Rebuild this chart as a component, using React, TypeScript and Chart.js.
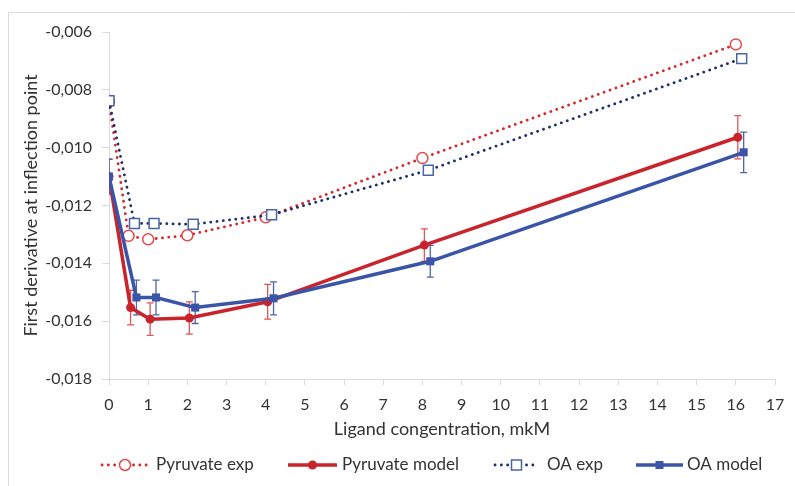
import React, { useEffect, useRef } from "react";
import { Chart, registerables } from "chart.js";

Chart.register(...registerables);

// ---- data ----
const pyrExpX = [0, 0.5, 1, 2, 4, 8, 16];
const pyrExpY = [-0.0084, -0.01305, -0.01317, -0.01303, -0.01241, -0.01036, -0.00643];

const pyrModelX = [0, 0.55, 1.05, 2.05, 4.05, 8.05, 16.05];
const pyrModelY = [-0.011, -0.01553, -0.01593, -0.01589, -0.01533, -0.01337, -0.00964];
const pyrModelErr = [0.0006, 0.0006, 0.00056, 0.00056, 0.0006, 0.00056, 0.00075];

const oaExpX = [0, 0.65, 1.15, 2.15, 4.15, 8.15, 16.15];
const oaExpY = [-0.00838, -0.01262, -0.01262, -0.01265, -0.01232, -0.01078, -0.00692];

const oaModelX = [0, 0.7, 1.2, 2.2, 4.2, 8.2, 16.2];
const oaModelY = [-0.011, -0.01518, -0.01518, -0.01553, -0.01521, -0.01393, -0.01016];
const oaModelErr = [0.0006, 0.0006, 0.0006, 0.00055, 0.00057, 0.00055, 0.0007];

const seriesNames = ["Pyruvate exp", "Pyruvate model", "OA exp", "OA model"];
const xTitle = "Ligand congentration, mkM";
const yTitle = "First derivative at inflection point";

// ---- styles ----
const FONT = "Lato, 'Open Sans', sans-serif";
const TEXT = "#333333";
const AXIS = "#d9d9d9";
const RED_DOT = "#d42a2f";
const RED_OPEN = "#e8484a";
const RED = "#c9232c";
const RED_ERR = "#e0565a";
const NAVY_DOT = "#1f2f6e";
const BLUE_OPEN = "#4a64a8";
const BLUE = "#3a54a8";
const BLUE_ERR = "#4d66aa";

const pts = (xs: number[], ys: number[]) => xs.map((x, i) => ({ x, y: ys[i] }));

const errorBarPlugin = {
  id: "errorBars",
  beforeDatasetsDraw(chart: any) {
    const { ctx, chartArea } = chart;
    const ys = chart.scales.y;
    const xs = chart.scales.x;
    ctx.save();
    ctx.beginPath();
    ctx.rect(chartArea.left, chartArea.top, chartArea.right - chartArea.left, chartArea.bottom - chartArea.top);
    ctx.clip();
    chart.data.datasets.forEach((ds: any, di: number) => {
      if (!ds.errors) return;
      const meta = chart.getDatasetMeta(di);
      if (meta.hidden) return;
      ctx.strokeStyle = ds.errorColor;
      ctx.lineWidth = 1.3;
      ds.data.forEach((p: any, i: number) => {
        const e = ds.errors[i];
        const px = xs.getPixelForValue(p.x);
        const top = ys.getPixelForValue(p.y + e);
        const bot = ys.getPixelForValue(p.y - e);
        const cap = 3.5;
        ctx.beginPath();
        ctx.moveTo(px, top);
        ctx.lineTo(px, bot);
        ctx.moveTo(px - cap, top);
        ctx.lineTo(px + cap, top);
        ctx.moveTo(px - cap, bot);
        ctx.lineTo(px + cap, bot);
        ctx.stroke();
      });
    });
    ctx.restore();
  },
};

const frameLegendPlugin = {
  id: "frameLegend",
  beforeDraw(chart: any) {
    const { ctx } = chart;
    ctx.save();
    ctx.fillStyle = "#ffffff";
    ctx.fillRect(0, 0, chart.width, chart.height);
    ctx.strokeStyle = AXIS;
    ctx.lineWidth = 1;
    ctx.beginPath();
    ctx.moveTo(8.5, chart.height);
    ctx.lineTo(8.5, 12.5);
    ctx.lineTo(chart.width, 12.5);
    ctx.stroke();
    ctx.restore();
  },
  afterDraw(chart: any) {
    const { ctx } = chart;
    const y = 465;
    const items = [
      { x0: 102, x1: 148, tx: 156, kind: "pe" },
      { x0: 288, x1: 337, tx: 342, kind: "pm" },
      { x0: 495, x1: 538, tx: 547, kind: "oe" },
      { x0: 636, x1: 683, tx: 687, kind: "om" },
    ];
    ctx.save();
    items.forEach((it, i) => {
      const cx = (it.x0 + it.x1) / 2;
      ctx.beginPath();
      if (it.kind === "pe" || it.kind === "oe") {
        ctx.strokeStyle = it.kind === "pe" ? RED_DOT : NAVY_DOT;
        ctx.lineWidth = 2.8;
        ctx.lineCap = "round";
        ctx.setLineDash([0.1, 6.2]);
      } else {
        ctx.strokeStyle = it.kind === "pm" ? RED : BLUE;
        ctx.lineWidth = 3.5;
        ctx.lineCap = "butt";
        ctx.setLineDash([]);
      }
      ctx.moveTo(it.x0, y);
      ctx.lineTo(it.x1, y);
      ctx.stroke();
      ctx.setLineDash([]);
      if (it.kind === "pe") {
        ctx.beginPath();
        ctx.arc(cx, y, 5.5, 0, Math.PI * 2);
        ctx.fillStyle = "#fff";
        ctx.fill();
        ctx.strokeStyle = RED_OPEN;
        ctx.lineWidth = 1.5;
        ctx.stroke();
      } else if (it.kind === "pm") {
        ctx.beginPath();
        ctx.arc(cx, y, 4.5, 0, Math.PI * 2);
        ctx.fillStyle = RED;
        ctx.fill();
      } else if (it.kind === "oe") {
        ctx.fillStyle = "#fff";
        ctx.fillRect(cx - 5, y - 5, 10, 10);
        ctx.strokeStyle = BLUE_OPEN;
        ctx.lineWidth = 1.5;
        ctx.strokeRect(cx - 5, y - 5, 10, 10);
      } else {
        ctx.fillStyle = BLUE;
        ctx.fillRect(cx - 4, y - 4, 8, 8);
      }
      ctx.fillStyle = TEXT;
      ctx.font = `17px ${FONT}`;
      ctx.textAlign = "left";
      ctx.textBaseline = "middle";
      ctx.fillText(seriesNames[i], it.tx, y);
    });
    ctx.restore();
  },
};

export default function App() {
  const ref = useRef<HTMLCanvasElement>(null);

  useEffect(() => {
    document.body.style.margin = "0";
    const chart = new Chart(ref.current!, {
      type: "scatter",
      data: {
        datasets: [
          {
            label: seriesNames[0],
            data: pts(pyrExpX, pyrExpY),
            showLine: true,
            borderColor: RED_DOT,
            borderWidth: 2.8,
            borderDash: [0.1, 6.2],
            borderCapStyle: "round",
            pointStyle: "circle",
            pointRadius: 5.5,
            pointBorderWidth: 1.5,
            pointBorderColor: RED_OPEN,
            pointBackgroundColor: "#ffffff",
            order: 4,
          },
          {
            label: seriesNames[1],
            data: pts(pyrModelX, pyrModelY),
            errors: pyrModelErr,
            errorColor: RED_ERR,
            showLine: true,
            borderColor: RED,
            borderWidth: 3.5,
            pointStyle: "circle",
            pointRadius: 4.5,
            pointBorderWidth: 0,
            pointBackgroundColor: RED,
            order: 3,
          } as any,
          {
            label: seriesNames[2],
            data: pts(oaExpX, oaExpY),
            showLine: true,
            borderColor: NAVY_DOT,
            borderWidth: 2.8,
            borderDash: [0.1, 6.2],
            borderCapStyle: "round",
            pointStyle: "rect",
            pointRadius: 7,
            pointBorderWidth: 1.5,
            pointBorderColor: BLUE_OPEN,
            pointBackgroundColor: "#ffffff",
            order: 2,
          },
          {
            label: seriesNames[3],
            data: pts(oaModelX, oaModelY),
            errors: oaModelErr,
            errorColor: BLUE_ERR,
            showLine: true,
            borderColor: BLUE,
            borderWidth: 3.5,
            pointStyle: "rect",
            pointRadius: 5.7,
            pointBorderWidth: 0,
            pointBackgroundColor: BLUE,
            order: 1,
          } as any,
        ],
      },
      options: {
        responsive: false,
        animation: false,
        layout: { padding: { left: 20, top: 32, right: 20, bottom: 46 } },
        plugins: {
          legend: { display: false },
          tooltip: { enabled: false },
        },
        scales: {
          x: {
            type: "linear",
            min: 0,
            max: 17,
            afterFit: (s: any) => {
              s.height = 61;
            },
            ticks: {
              stepSize: 1,
              padding: 10,
              color: TEXT,
              font: { family: FONT, size: 16 },
            },
            grid: { drawOnChartArea: false, drawTicks: true, tickLength: 6, color: AXIS },
            border: { color: AXIS },
            title: {
              display: true,
              text: xTitle,
              color: TEXT,
              padding: 0,
              font: { family: FONT, size: 18 },
            },
          },
          y: {
            type: "linear",
            min: -0.018,
            max: -0.006,
            afterFit: (s: any) => {
              s.width = 89;
            },
            ticks: {
              stepSize: 0.002,
              padding: 10,
              color: TEXT,
              font: { family: FONT, size: 16 },
              callback: (v: any) => Number(v).toFixed(3).replace(".", ","),
            },
            grid: { drawOnChartArea: false, drawTicks: true, tickLength: 7, color: AXIS },
            border: { color: AXIS },
            title: {
              display: true,
              text: yTitle,
              color: TEXT,
              padding: 0,
              font: { family: FONT, size: 18 },
            },
          },
        },
      },
      plugins: [errorBarPlugin, frameLegendPlugin],
    } as any);
    return () => chart.destroy();
  }, []);

  return (
    <div style={{ width: 795, height: 486 }}>
      <canvas ref={ref} width={795} height={486} style={{ display: "block" }} />
    </div>
  );
}
